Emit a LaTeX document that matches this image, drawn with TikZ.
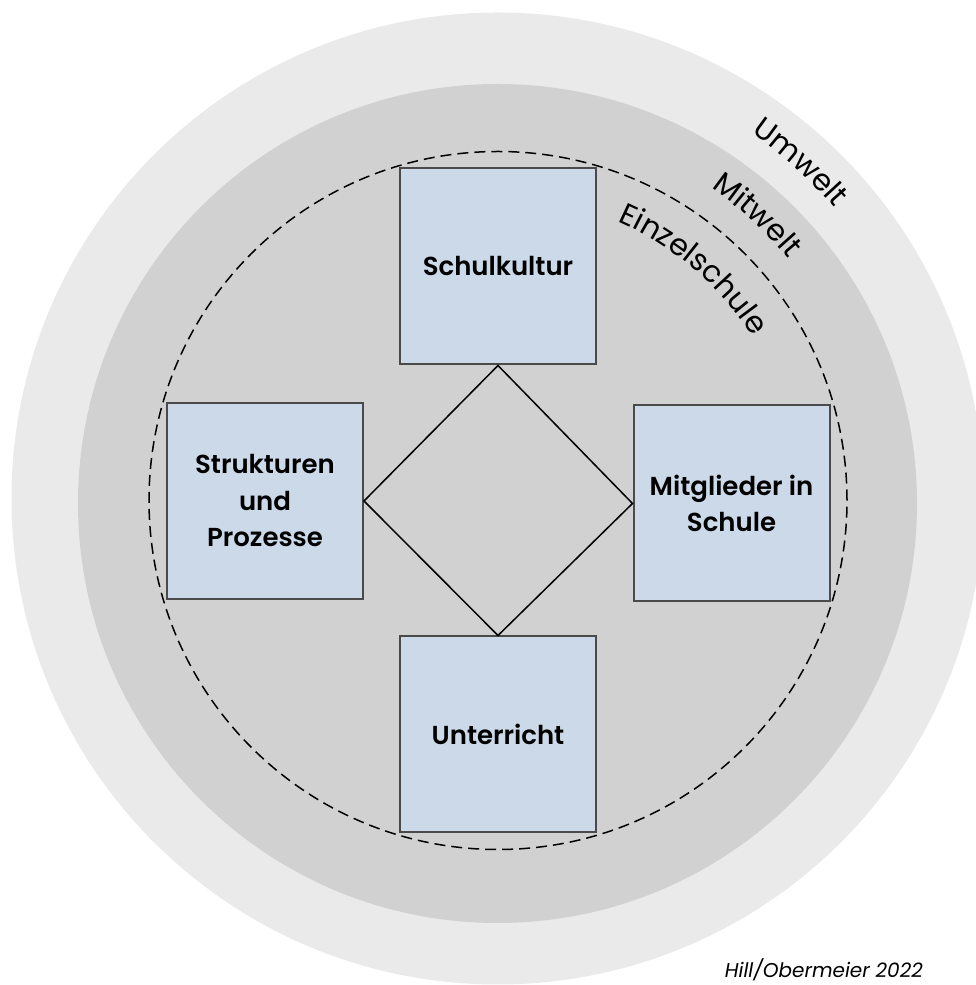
\documentclass[tikz,border=0pt]{standalone}
\usepackage{fontspec}
\setmainfont{Poppins}[BoldFont={Poppins SemiBold}]
\usetikzlibrary{decorations.text}
\definecolor{umwelt}{RGB}{234,234,234}
\definecolor{mitwelt}{RGB}{209,209,209}
\definecolor{boxblue}{RGB}{204,217,232}
\definecolor{boxline}{RGB}{74,74,74}
\tikzset{
	feld/.style={draw=boxline, line width=2pt, fill=boxblue, minimum width=196pt, minimum height=196pt,
		align=center, font=\fontsize{26}{36.5}\selectfont\bfseries, inner sep=0pt},
	ringtext/.style={decorate, decoration={text along path, text align=center, text={#1}}}
}
\begin{document}
\begin{tikzpicture}[x=1pt,y=1pt]
		\useasboundingbox (0,0) rectangle (976,985);
		\fill[color=umwelt] (497.5,486.5) circle (486);
		\fill[color=mitwelt] (497.5,481.5) circle (419.5);
		\draw[line width=1.5pt, dash pattern=on 11pt off 6pt] (498,484.5) circle (349);
		% Felder
		\node[feld] (kultur) at (498,718.5) {Schulkultur};
		\node[feld] (strukturen) at (265,484) {Strukturen\\und\\Prozesse};
		\node[feld] (mitglieder) at (731.5,481.5) {Mitglieder in\\Schule};
		\node[feld] (unterricht) at (498,250.5) {Unterricht};
		\draw[line width=1.5pt, line join=miter] (kultur.south) -- (mitglieder.west) -- (unterricht.north) -- (strukturen.east) -- cycle;
		% Ringe
		\path[ringtext={|\fontsize{30}{33}\selectfont|Umwelt}] (497.5,486.5) ++(78:445) arc[start angle=78, end angle=18, radius=445];
		\path[ringtext={|\fontsize{30}{33}\selectfont|Mitwelt}] (497.5,486.5) ++(82.5:377) arc[start angle=82.5, end angle=12.5, radius=377];
		\path[ringtext={|\fontsize{30}{33}\selectfont|Einzelschule}] (497.5,486.5) ++(94.5:302) arc[start angle=94.5, end angle=4.5, radius=302];
		\node[anchor=base east, inner sep=0pt, font=\fontsize{20}{24}\selectfont\itshape] (quelle) at (923,8) {Hill/Obermeier 2022};
	\end{tikzpicture}
\end{document}
